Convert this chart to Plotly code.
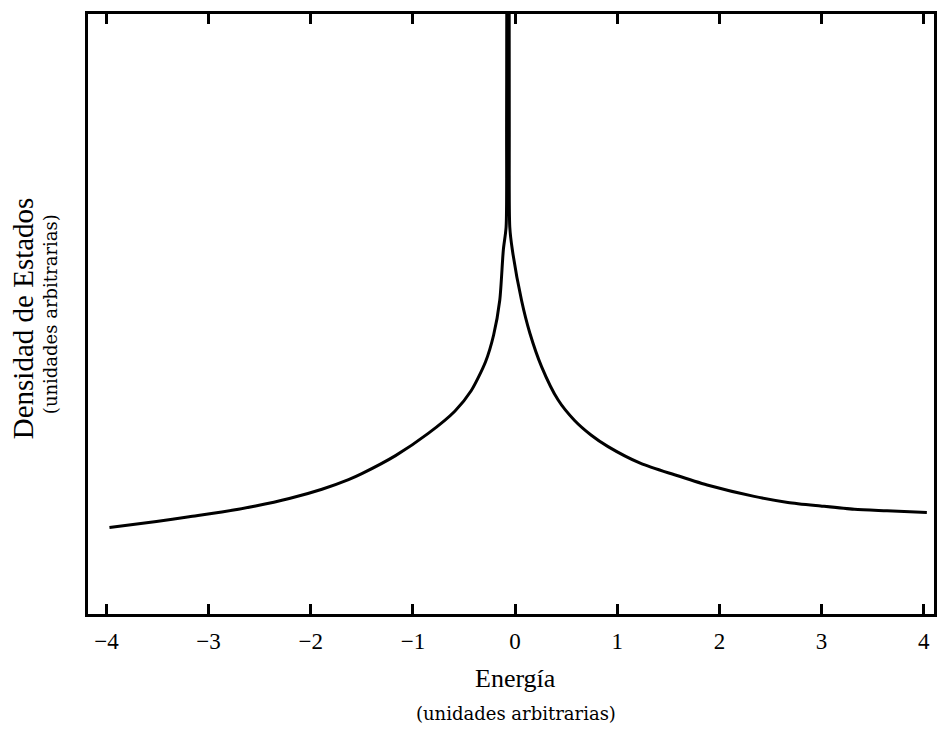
import plotly.graph_objects as go

# Energy (arbitrary units) and density of states (arbitrary units)
# (the van Hove peak near E = 0 runs far off the top of the frame)
energy = [-3.97, -3.51, -3.19, -2.87, -2.54, -2.21, -1.89, -1.63, -1.50, -1.17,
          -0.85, -0.59, -0.43, -0.29, -0.21, -0.15, -0.115, -0.088, -0.083, -0.070,
          -0.057, -0.052, -0.027, 0.063, 0.145, 0.26, 0.42, 0.58, 0.746,
          0.91, 1.23, 1.56, 1.88, 2.34, 2.67, 2.99, 3.32, 3.64, 4.03]
dos = [1.44, 1.54, 1.62, 1.70, 1.80, 1.925, 2.08, 2.24, 2.34, 2.64,
       3.01, 3.38, 3.72, 4.20, 4.65, 5.23, 6.07, 6.45, 8.2, 40.0,
       8.2, 6.45, 6.07, 5.23, 4.68, 4.12, 3.57, 3.23, 2.98,
       2.79, 2.51, 2.32, 2.15, 1.96, 1.86, 1.80, 1.745, 1.72, 1.69]

tick_vals = [-4, -3, -2, -1, 0, 1, 2, 3, 4]
tick_text = ["\u22124", "\u22123", "\u22122", "\u22121", "0", "1", "2", "3", "4"]

x_title = "Energía"
x_subtitle = "(unidades arbitrarias)"
y_title = "Densidad de Estados"
y_subtitle = "(unidades arbitrarias)"

serif = "Liberation Serif, DejaVu Serif, serif"
wide_serif = "DejaVu Serif, serif"

fig = go.Figure()
fig.add_trace(go.Scatter(
    x=energy, y=dos, mode="lines",
    line=dict(color="black", width=3, shape="spline", smoothing=0.7),
    hoverinfo="skip", showlegend=False,
))

W, H = 943, 733
L, R, T, B = 88, 6, 14, 119
pw = W - L - R
ph = H - T - B


def py(v):
    return (H - B - v) / ph


def px(v):
    return (v - L) / pw


fig.update_layout(
    width=W, height=H,
    margin=dict(l=L, r=R, t=T, b=B),
    paper_bgcolor="white", plot_bgcolor="white",
    font=dict(family=serif, color="black"),
    xaxis=dict(
        range=[-4.18, 4.10], tickmode="array", tickvals=tick_vals, ticktext=tick_text,
        ticks="inside", ticklen=10, tickwidth=2.5, tickcolor="black",
        showline=True, linewidth=3, linecolor="black", mirror="ticks",
        showgrid=False, zeroline=False, ticklabelstandoff=4,
        tickfont=dict(family=serif, size=23, color="black"),
    ),
    yaxis=dict(
        range=[0, 10], showticklabels=False, ticks="",
        showline=True, linewidth=3, linecolor="black", mirror=True,
        showgrid=False, zeroline=False,
    ),
    annotations=[
        dict(text=x_title, xref="paper", yref="paper",
             x=px(517), y=py(678),
             xanchor="center", yanchor="middle", showarrow=False,
             font=dict(family=serif, size=26, color="black")),
        dict(text=x_subtitle, xref="paper", yref="paper",
             x=px(518), y=py(713),
             xanchor="center", yanchor="middle", showarrow=False,
             font=dict(family=wide_serif, size=18, color="black")),
        dict(text=y_title, xref="paper", yref="paper", textangle=-90,
             x=px(23), y=py(318),
             xanchor="center", yanchor="middle", showarrow=False,
             font=dict(family=serif, size=29, color="black")),
        dict(text=y_subtitle, xref="paper", yref="paper", textangle=-90,
             x=px(50), y=py(314),
             xanchor="center", yanchor="middle", showarrow=False,
             font=dict(family=wide_serif, size=18, color="black")),
    ],
)

fig.write_html("out.html")
